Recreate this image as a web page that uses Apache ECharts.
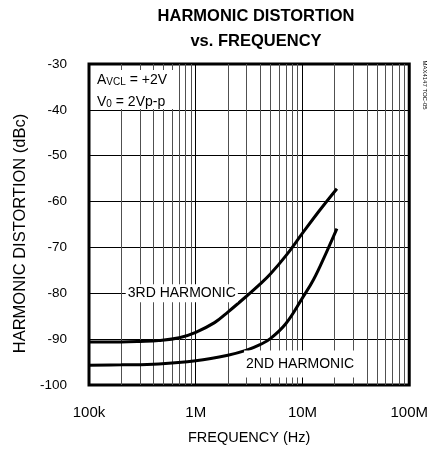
<!DOCTYPE html>
<html>
<head>
<meta charset="utf-8">
<script src="https://cdn.jsdelivr.net/npm/echarts@6/dist/echarts.min.js"></script>
<style>
html,body{margin:0;padding:0;background:#fff;}
#chart{width:431px;height:450px;}
</style>
</head>
<body>
<div id="chart"></div>
<script>
// Data
var freq3 = [1e5, 2e5, 3e5, 4.5e5, 7e5, 1e6, 1.5e6, 2e6, 3e6, 4e6, 5e6, 7e6, 1e7, 1.45e7, 2.1e7];
var h3    = [-90.6, -90.6, -90.5, -90.3, -89.7, -88.5, -86.4, -84.1, -80.6, -78.0, -75.8, -71.8, -66.9, -61.9, -57.2];
var freq2 = [1e5, 2e5, 4.5e5, 1e6, 2e6, 3e6, 4e6, 5e6, 7e6, 1e7, 1.27e7, 1.68e7, 2.1e7];
var h2    = [-95.7, -95.6, -95.4, -94.7, -93.5, -92.4, -91.2, -89.9, -86.6, -81.0, -77.0, -71.0, -65.9];
var minorFreqs = [2e5,3e5,4e5,5e5,6e5,7e5,8e5,9e5, 2e6,3e6,4e6,5e6,6e6,7e6,8e6,9e6, 2e7,3e7,4e7,5e7,6e7,7e7,8e7,9e7];
var xTickLabels = {100000:'100k', 1000000:'1M', 10000000:'10M', 100000000:'100M'};
var yMin = -100, yMax = -30, yStep = 10;

var FONT = '"Liberation Sans", Arial, Helvetica, sans-serif';
function zip(a, b) { return a.map(function (v, i) { return [v, b[i]]; }); }

var chart = echarts.init(document.getElementById('chart'), null, {renderer: 'canvas'});
chart.setOption({
  animation: false,
  backgroundColor: '#fff',
  textStyle: {fontFamily: FONT, color: '#000'},
  title: {
    text: 'HARMONIC DISTORTION\nvs. FREQUENCY',
    left: 251, top: -1, textAlign: 'center',
    textStyle: {fontFamily: FONT, fontSize: 16.5, fontWeight: 'bold', color: '#000', lineHeight: 25}
  },
  grid: {left: 89, right: 17, top: 64, bottom: 62, show: true, borderColor: '#000', borderWidth: 3, backgroundColor: 'transparent'},
  xAxis: {
    type: 'log', logBase: 10, min: 1e5, max: 1e8,
    name: 'FREQUENCY (Hz)', nameLocation: 'middle', nameGap: 45,
    nameTextStyle: {fontFamily: FONT, fontSize: 14.5, color: '#000'},
    axisLine: {show: false}, axisTick: {show: false},
    axisLabel: {fontFamily: FONT, fontSize: 15, color: '#000', margin: 20,
      formatter: function (v) { return xTickLabels[Math.round(v)] || ''; }},
    splitLine: {show: true, lineStyle: {color: '#000', width: 1}}
  },
  yAxis: {
    type: 'value', min: yMin, max: yMax, interval: yStep,
    name: 'HARMONIC DISTORTION (dBc)', nameLocation: 'middle', nameGap: 60,
    nameTextStyle: {fontFamily: FONT, fontSize: 16.5, color: '#000', padding: [0, 18, 0, 0]},
    axisLine: {show: false}, axisTick: {show: false},
    axisLabel: {fontFamily: FONT, fontSize: 13.5, color: '#000', margin: 22},
    splitLine: {show: true, lineStyle: {color: '#000', width: 1}}
  },
  series: [
    {
      type: 'line', data: [], silent: true,
      markLine: {
        silent: true, symbol: ['none', 'none'], z: 1,
        label: {show: false},
        lineStyle: {color: '#505050', width: 1, type: 'solid'},
        data: minorFreqs.map(function (f) { return {xAxis: f}; })
      }
    },
    {
      name: '3RD HARMONIC', type: 'line', data: zip(freq3, h3), smooth: 0.4,
      showSymbol: false, lineStyle: {color: '#000', width: 3}, z: 3,
      markPoint: {
        symbol: 'circle', symbolSize: 1, itemStyle: {color: 'rgba(0,0,0,0)'}, z: 6,
        data: [{coord: [7.4e5, -80], value: '3RD HARMONIC'}],
        label: {show: true, position: 'inside', formatter: '3RD HARMONIC', fontFamily: FONT, fontSize: 14,
          color: '#000', backgroundColor: '#fff', padding: [2, 2, 2, 2]}
      }
    },
    {
      name: '2ND HARMONIC', type: 'line', data: zip(freq2, h2), smooth: 0.4,
      showSymbol: false, lineStyle: {color: '#000', width: 3}, z: 3,
      markPoint: {
        symbol: 'circle', symbolSize: 1, itemStyle: {color: 'rgba(0,0,0,0)'}, z: 6,
        data: [{coord: [9.5e6, -95.4], value: '2ND HARMONIC'}],
        label: {show: true, position: 'inside', formatter: '2ND HARMONIC', fontFamily: FONT, fontSize: 14,
          color: '#000', backgroundColor: '#fff', padding: [5, 2, 8, 2]}
      }
    }
  ],
  graphic: [
    {type: 'rect', z: 10, shape: {x: 91, y: 70, width: 87, height: 39}, style: {fill: '#fff'}},
    {type: 'text', z: 11, left: 97, top: 73, style: {
      text: 'A{s|VCL} = +2V', font: '14px ' + FONT, fill: '#000',
      rich: {s: {fontSize: 10, fontFamily: FONT, verticalAlign: 'bottom', padding: [5, 0, 0, 0], fill: '#000'}}
    }},
    {type: 'text', z: 11, left: 97, top: 95, style: {
      text: 'V{s|0} = 2Vp-p', font: '14px ' + FONT, fill: '#000',
      rich: {s: {fontSize: 10, fontFamily: FONT, verticalAlign: 'bottom', padding: [5, 0, 0, 0], fill: '#000'}}
    }},
    {type: 'text', z: 11, x: 425, y: 85, rotation: -Math.PI / 2, style: {
      text: 'MAX4147 TOC-05', font: '6px ' + FONT, fill: '#000', align: 'center', verticalAlign: 'middle'
    }}
  ]
});
</script>
</body>
</html>
